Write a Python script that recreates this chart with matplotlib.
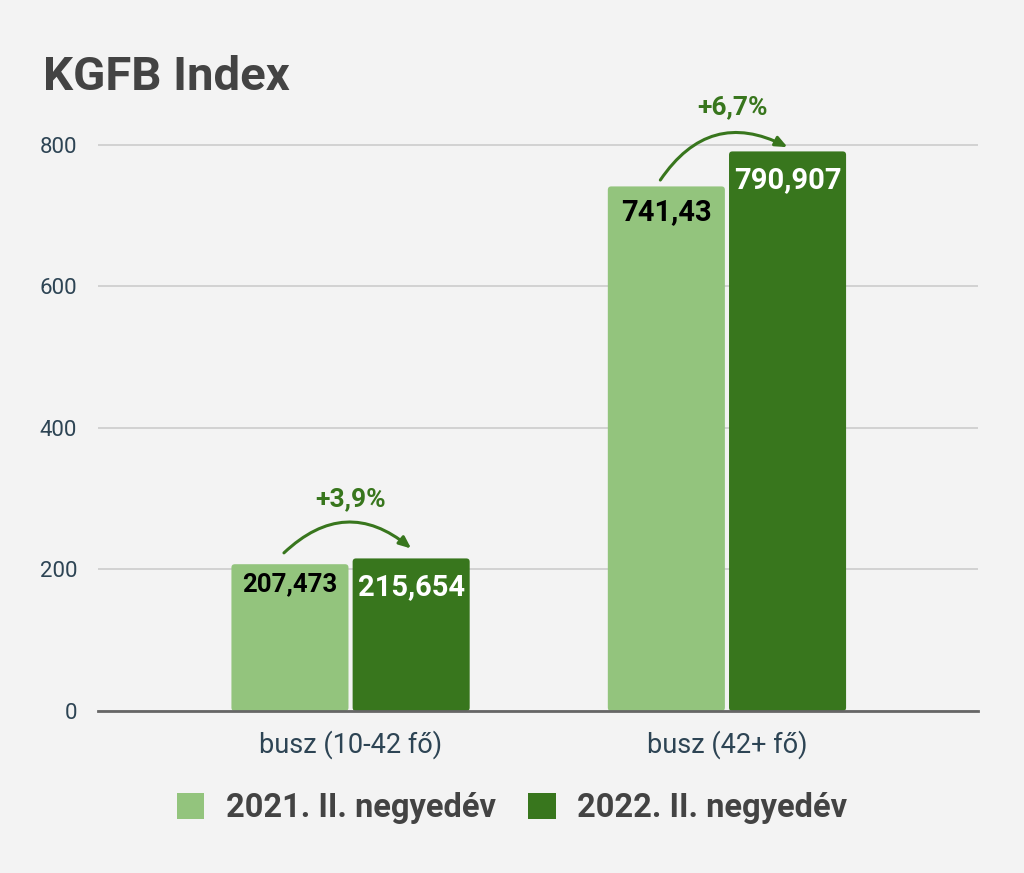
import matplotlib
matplotlib.use("Agg")
import matplotlib.pyplot as plt
from matplotlib.patches import FancyBboxPatch
import numpy as np

# ---- data ----
categories = ["busz (10-42 fő)", "busz (42+ fő)"]
series_names = ["2021. II. negyedév", "2022. II. negyedév"]
values_2021 = [207.473, 741.43]
values_2022 = [215.654, 790.907]
labels_2021 = ["207,473", "741,43"]
labels_2022 = ["215,654", "790,907"]
changes = ["+3,9%", "+6,7%"]
yticks = [0, 200, 400, 600, 800]
title = "KGFB Index"

# ---- style ----
BG = "#f3f3f3"
LIGHT = "#93c47d"
DARK = "#38761d"
TICK_COL = "#2d4454"
TITLE_COL = "#434343"
plt.rcParams["font.family"] = ["Roboto", "DejaVu Sans"]

fig = plt.figure(figsize=(10.24, 8.73), dpi=100, facecolor=BG)
ax = fig.add_axes([98 / 1024, 162 / 873, 880 / 1024, 0.7132])
ax.set_facecolor(BG)

x = np.arange(len(categories))
bw = 0.311
off = 0.161
bars1 = ax.bar(x - off, values_2021, bw, color=LIGHT, zorder=3)
bars2 = ax.bar(x + off, values_2022, bw, color=DARK, zorder=3)

# rounded corners
for bars in (bars1, bars2):
    for p in bars:
        p.set_visible(False)
        fb = FancyBboxPatch((p.get_x(), p.get_y()), p.get_width(), p.get_height(),
                            boxstyle="round,pad=0,rounding_size=0.009",
                            mutation_aspect=533, facecolor=p.get_facecolor(),
                            edgecolor="none", zorder=3)
        ax.add_patch(fb)

ax.set_xlim(-0.671, 1.667)
ax.set_ylim(0, 880)
ax.set_yticks(yticks)
ax.set_yticklabels([str(t) for t in yticks], fontsize=16, color=TICK_COL)
ax.set_xticks(x)
ax.set_xticklabels(categories, fontsize=19.5, color=TICK_COL)
ax.tick_params(axis="both", length=0)
ax.tick_params(axis="y", pad=15)
ax.tick_params(axis="x", pad=14)
for s in ["top", "right", "left"]:
    ax.spines[s].set_visible(False)
ax.spines["bottom"].set_color("#666666")
ax.spines["bottom"].set_linewidth(2)
ax.spines["bottom"].set_zorder(4)
ax.yaxis.grid(True, color="#cccccc", linewidth=1.2, zorder=0)
ax.set_axisbelow(True)

# value labels
label_sizes_2021 = [18.5, 21]
label_offsets_2021 = [-20, -26]
label_offsets_2022 = [-29, -29]
for i in range(len(categories)):
    ax.annotate(labels_2021[i], (x[i] - off, values_2021[i]),
                xytext=(0, label_offsets_2021[i]), textcoords="offset pixels",
                ha="center", va="center", fontsize=label_sizes_2021[i],
                fontweight="bold", color="black", zorder=5)
    ax.annotate(labels_2022[i], (x[i] + off, values_2022[i]),
                xytext=(0, label_offsets_2022[i]), textcoords="offset pixels",
                ha="center", va="center", fontsize=21,
                fontweight="bold", color="white", zorder=5)

# change arrows
arrow_start_pad = [16, 9]
arrow_end_pad = [14, 6]
text_pad = [83, 63]
for i in range(len(categories)):
    ax.annotate("", xy=(x[i] + 0.161, values_2022[i] + arrow_end_pad[i]),
                xytext=(x[i] - 0.177, values_2021[i] + arrow_start_pad[i]),
                arrowprops=dict(arrowstyle="-|>,head_length=0.7,head_width=0.3",
                                color=DARK, lw=2.2,
                                connectionstyle="arc3,rad=-0.44",
                                shrinkA=0, shrinkB=0),
                annotation_clip=False, zorder=6)
    ax.text(x[i] + (0 if i == 0 else 0.016), values_2022[i] + text_pad[i], changes[i],
            ha="center", va="center", fontsize=19, fontweight="bold",
            color=DARK, clip_on=False)

# title
fig.text(43 / 1024, 1 - 90 / 873, title, fontsize=34, fontweight="bold",
         color=TITLE_COL, ha="left", va="baseline")

# legend
handles = [plt.Rectangle((0, 0), 1, 1, facecolor=LIGHT, edgecolor="none"),
           plt.Rectangle((0, 0), 1, 1, facecolor=DARK, edgecolor="none")]
leg = fig.legend(handles, series_names, loc="center", bbox_to_anchor=(0.5, 1 - 808 / 873),
                 ncol=2, frameon=False, handlelength=0.85, handleheight=0.85,
                 handletextpad=0.65, columnspacing=1.0,
                 prop={"family": ["Roboto", "DejaVu Sans"], "weight": "bold", "size": 23.5})
for t in leg.get_texts():
    t.set_color(TITLE_COL)

fig.savefig("out.png", dpi=100, facecolor=BG)
